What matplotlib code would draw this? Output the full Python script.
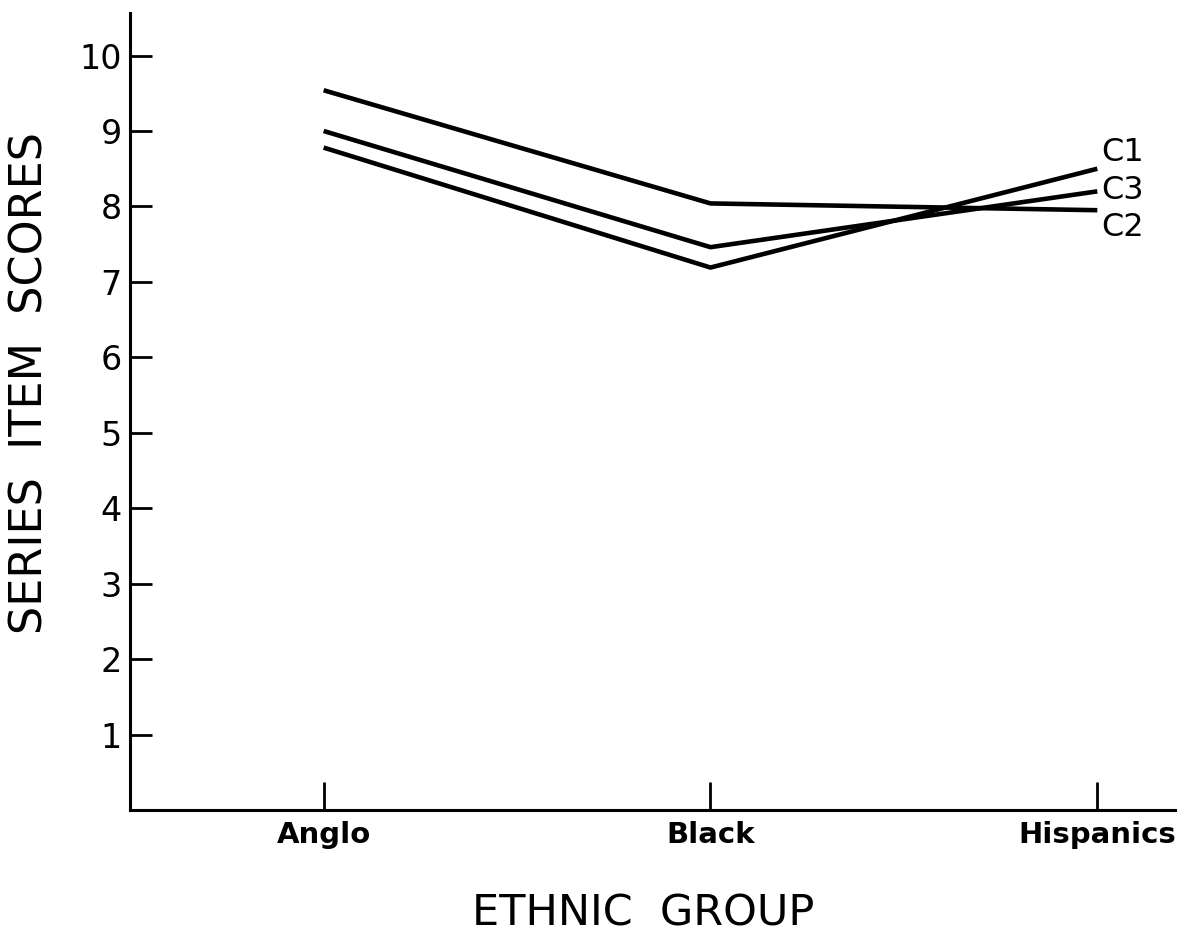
import matplotlib.pyplot as plt

# data
groups = ["Anglo", "Black", "Hispanics"]
c1 = [8.78, 7.19, 8.50]
c2 = [9.54, 8.04, 7.95]
c3 = [9.00, 7.46, 8.20]
series = [("C1", c1), ("C3", c3), ("C2", c2)]
yticks = [1, 2, 3, 4, 5, 6, 7, 8, 9, 10]

plt.rcParams['font.family'] = ['DejaVu Sans']

fig = plt.figure(figsize=(11.95, 9.36), dpi=100)
ax = fig.add_axes([0.109, 0.1346, 0.874, 0.852])

xs = list(range(len(groups)))
for name, vals in series:
    ax.plot(xs, vals, color="black", lw=3.3, solid_capstyle="butt")

# labels at the right ends of the lines
label_y = {"C1": 8.72, "C3": 8.21, "C2": 7.72}
for name, vals in series:
    ax.text(xs[-1] + 0.01, label_y[name], name, fontsize=23, va="center", ha="left")

ax.set_xlim(-0.5, 2.2)
ax.set_ylim(0, 10.57)

ax.spines["top"].set_visible(False)
ax.spines["right"].set_visible(False)
ax.spines["left"].set_linewidth(2.2)
ax.spines["bottom"].set_linewidth(2.2)

ax.set_yticks(yticks)
ax.tick_params(axis="y", direction="in", length=16, width=2, pad=6, labelsize=24)

ax.set_xticks(xs)
ax.set_xticklabels(groups)
ax.tick_params(axis="x", direction="in", length=20, width=2, pad=8, labelsize=21)
for lbl in ax.get_xticklabels():
    lbl.set_fontweight("bold")

fig.text(30 / 1195, 1 - 383 / 936, "SERIES  ITEM  SCORES", rotation=90,
         fontsize=32, ha="center", va="center")
fig.text(643 / 1195, 1 - 913 / 936, "ETHNIC  GROUP", fontsize=31,
         ha="center", va="center")

fig.savefig("out.png", dpi=100)
